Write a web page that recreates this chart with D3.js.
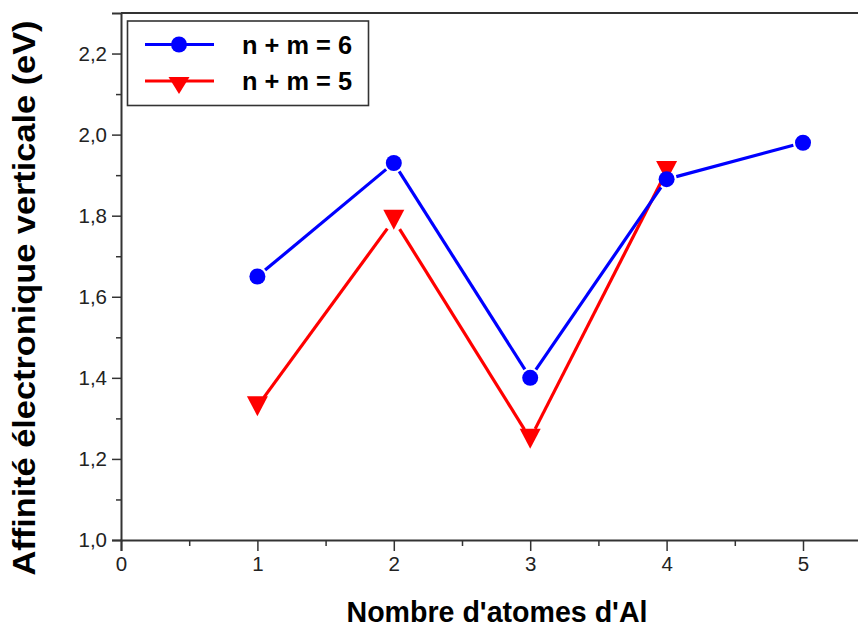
<!DOCTYPE html>
<html>
<head>
<meta charset="utf-8">
<script src="https://cdn.jsdelivr.net/npm/d3@7"></script>
<style>
  html, body { margin: 0; padding: 0; background: #fff; }
  svg { display: block; }
  text { font-family: "Liberation Sans", Arial, sans-serif; }
</style>
</head>
<body>
<svg id="chart" width="858" height="629"></svg>
<script>
// Number of Al atoms (x) and vertical electron affinity in eV (y)
const atomsAl6 = [1, 2, 3, 4, 5];
const affinity6 = [1.65, 1.93, 1.40, 1.89, 1.98];   // n + m = 6
const atomsAl5 = [1, 2, 3, 4];
const affinity5 = [1.33, 1.79, 1.25, 1.91];         // n + m = 5

const seriesNames = ["n + m = 6", "n + m = 5"];
const yTickValues = [1.0, 1.2, 1.4, 1.6, 1.8, 2.0, 2.2];
const xTickValues = [0, 1, 2, 3, 4, 5];
const xTitle = "Nombre d'atomes d'Al";
const yTitle = "Affinité électronique verticale (eV)";

const svg = d3.select("#chart");
const W = 858, H = 629;
const plotLeft = 121, plotBottom = 540, plotTop = 13;

const x = d3.scaleLinear().domain([0, 5.5]).range([plotLeft, plotLeft + 5.5 * 136.4]);
const y = d3.scaleLinear().domain([1.0, 2.3]).range([plotBottom, plotTop]);

const axisColor = "#333";
const fmt = d => d3.format(".1f")(d).replace(".", ",");

// Y axis (major + minor ticks)
svg.append("g").attr("transform", `translate(${plotLeft},0)`)
  .call(d3.axisLeft(y).tickValues(yTickValues).tickFormat(fmt).tickSize(9).tickPadding(5));
svg.append("g").attr("transform", `translate(${plotLeft},0)`)
  .call(d3.axisLeft(y).tickValues([1.1, 1.3, 1.5, 1.7, 1.9, 2.1]).tickFormat("").tickSize(5))
  .call(g => g.select(".domain").remove());

// X axis (major + minor ticks)
svg.append("g").attr("transform", `translate(0,${plotBottom})`)
  .call(d3.axisBottom(x).tickValues(xTickValues).tickFormat(d3.format("d")).tickSize(11).tickPadding(5));
svg.append("g").attr("transform", `translate(0,${plotBottom})`)
  .call(d3.axisBottom(x).tickValues([0.5, 1.5, 2.5, 3.5, 4.5]).tickFormat("").tickSize(6))
  .call(g => g.select(".domain").remove());

svg.selectAll(".domain").attr("stroke", axisColor).attr("stroke-width", 2);
svg.selectAll(".tick line").attr("stroke", axisColor).attr("stroke-width", 1.5);
svg.selectAll(".tick text").attr("fill", "#222").attr("font-size", 20.5)
  .attr("font-family", "'Liberation Sans', Arial, sans-serif");

// Top frame line
svg.append("line")
  .attr("x1", plotLeft).attr("x2", W).attr("y1", y(2.3)).attr("y2", y(2.3))
  .attr("stroke", axisColor).attr("stroke-width", 2);

// Segments between markers, with a small gap around each marker
function drawSeries(xs, ys, color, gap) {
  const pts = xs.map((v, i) => [x(v), y(ys[i])]);
  for (let i = 0; i < pts.length - 1; i++) {
    const [x0, y0] = pts[i], [x1, y1] = pts[i + 1];
    const len = Math.hypot(x1 - x0, y1 - y0);
    const ux = (x1 - x0) / len, uy = (y1 - y0) / len;
    svg.append("line")
      .attr("x1", x0 + ux * gap).attr("y1", y0 + uy * gap)
      .attr("x2", x1 - ux * gap).attr("y2", y1 - uy * gap)
      .attr("stroke", color).attr("stroke-width", 3.2);
  }
  return pts;
}

function downTriangle(g, cx, cy, color) {
  g.append("path")
    .attr("d", `M${cx - 10.5},${cy - 10} L${cx + 10.5},${cy - 10} L${cx},${cy + 10} Z`)
    .attr("fill", color);
}

const ptsRed = drawSeries(atomsAl5, affinity5, "#ff0000", 11);
const ptsBlue = drawSeries(atomsAl6, affinity6, "#0000ff", 10);

ptsRed.forEach(([cx, cy]) => downTriangle(svg, cx, cy, "#ff0000"));
ptsBlue.forEach(([cx, cy]) => svg.append("circle").attr("cx", cx).attr("cy", cy).attr("r", 8).attr("fill", "#0000ff"));

// Legend
const lg = svg.append("g");
lg.append("rect").attr("x", 127.5).attr("y", 21).attr("width", 241).attr("height", 84.5)
  .attr("fill", "#fff").attr("stroke", "#333").attr("stroke-width", 1.6);
const rows = [
  { name: seriesNames[0], color: "#0000ff", yy: 44.5, marker: "circle" },
  { name: seriesNames[1], color: "#ff0000", yy: 81, marker: "triangle" }
];
rows.forEach(r => {
  lg.append("line").attr("x1", 145).attr("x2", 214).attr("y1", r.yy).attr("y2", r.yy)
    .attr("stroke", r.color).attr("stroke-width", 3.2);
  if (r.marker === "circle") {
    lg.append("circle").attr("cx", 179).attr("cy", r.yy).attr("r", 8).attr("fill", r.color);
  } else {
    lg.append("path")
      .attr("d", `M${179 - 10.5},${r.yy - 4} L${179 + 10.5},${r.yy - 4} L179,${r.yy + 13} Z`)
      .attr("fill", r.color);
  }
  lg.append("text").attr("x", 242).attr("y", r.yy + 9)
    .attr("font-size", 25).attr("font-weight", "bold").attr("fill", "#000")
    .attr("textLength", 110).attr("lengthAdjust", "spacingAndGlyphs")
    .text(r.name);
});

// Axis titles
svg.append("text").attr("x", 497).attr("y", 622).attr("text-anchor", "middle")
  .attr("font-size", 29).attr("font-weight", "bold").attr("fill", "#000")
  .attr("textLength", 301).attr("lengthAdjust", "spacingAndGlyphs")
  .text(xTitle);
svg.append("text")
  .attr("transform", "translate(35,298) rotate(-90)")
  .attr("text-anchor", "middle")
  .attr("font-size", 31).attr("font-weight", "bold").attr("fill", "#000")
  .attr("textLength", 555).attr("lengthAdjust", "spacingAndGlyphs")
  .text(yTitle);
</script>
</body>
</html>
